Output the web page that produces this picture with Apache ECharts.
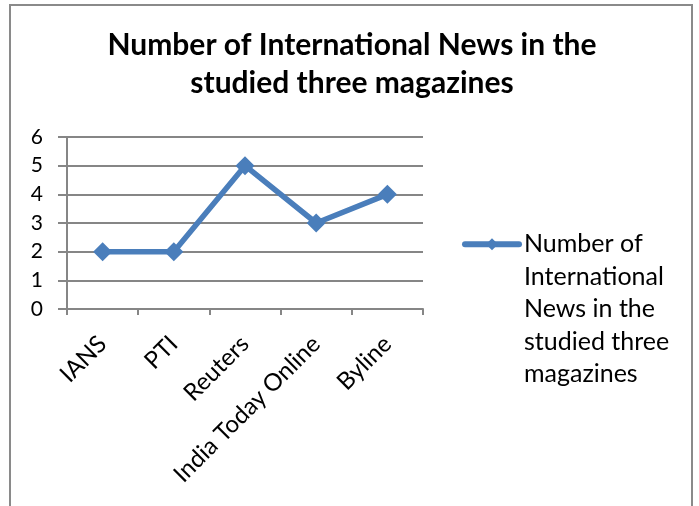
<!DOCTYPE html>
<html><head><meta charset="utf-8">
<script src="https://cdn.jsdelivr.net/npm/echarts@6/dist/echarts.min.js"></script>
<style>html,body{margin:0;padding:0;background:#fff}#c{width:699px;height:506px}</style>
</head><body><div id="c"></div>
<script>
const categories = ['IANS', 'PTI', 'Reuters', 'India Today Online', 'Byline'];
const values = [2, 2, 5, 3, 4];
const seriesName = 'Number of International News in the studied three magazines';
const legendLines = ['Number of', 'International', 'News in the', 'studied three', 'magazines'];
const titleText = 'Number of International News in the\nstudied three magazines';

const FONT = 'Lato';
const chart = echarts.init(document.getElementById('c'), null, {renderer: 'canvas'});
chart.setOption({
  animation: false,
  backgroundColor: '#fff',
  textStyle: {fontFamily: FONT},
  title: {
    text: titleText,
    left: 352, top: 26, textAlign: 'center', padding: 0,
    textStyle: {fontFamily: FONT, fontWeight: 'bold', fontSize: 30, lineHeight: 38, color: '#000'}
  },
  graphic: [{
    type: 'rect', silent: true, z: -1,
    shape: {x: 10, y: 5, width: 682, height: 520},
    style: {fill: 'none', stroke: '#8a8a8a', lineWidth: 2}
  }],
  legend: {
    data: [seriesName],
    orient: 'vertical',
    left: 462, top: 98, padding: 0,
    itemWidth: 54, itemHeight: 15,
    lineStyle: {width: 6, cap: 'round'},
    // blank lines above balance the lines below so the first line sits beside the marker
    formatter: () => '\n\n\n\n' + legendLines.join('\n'),
    textStyle: {fontFamily: FONT, fontSize: 25, lineHeight: 32.5, color: '#000'}
  },
  grid: {left: 67, right: 276, top: 137, bottom: 197, containLabel: false},
  xAxis: {
    type: 'category', data: categories, boundaryGap: true,
    axisLine: {lineStyle: {color: '#868686', width: 2}},
    axisTick: {show: true, length: 6, alignWithLabel: false, lineStyle: {color: '#868686', width: 2}},
    axisLabel: {rotate: 45, interval: 0, margin: 31, fontFamily: FONT, fontSize: 24, color: '#000'}
  },
  yAxis: {
    type: 'value', min: 0, max: 6, interval: 1,
    axisLine: {show: true, lineStyle: {color: '#868686', width: 2}},
    axisTick: {show: true, length: 9, lineStyle: {color: '#868686', width: 2}},
    splitLine: {lineStyle: {color: '#868686', width: 2}},
    axisLabel: {margin: 24, fontFamily: FONT, fontSize: 21, color: '#000'}
  },
  series: [{
    name: seriesName, type: 'line', data: values,
    symbol: 'diamond', symbolSize: 19,
    lineStyle: {color: '#4a7ebb', width: 5.5, cap: 'round'},
    itemStyle: {color: '#4a7ebb'}
  }]
});
</script></body></html>
